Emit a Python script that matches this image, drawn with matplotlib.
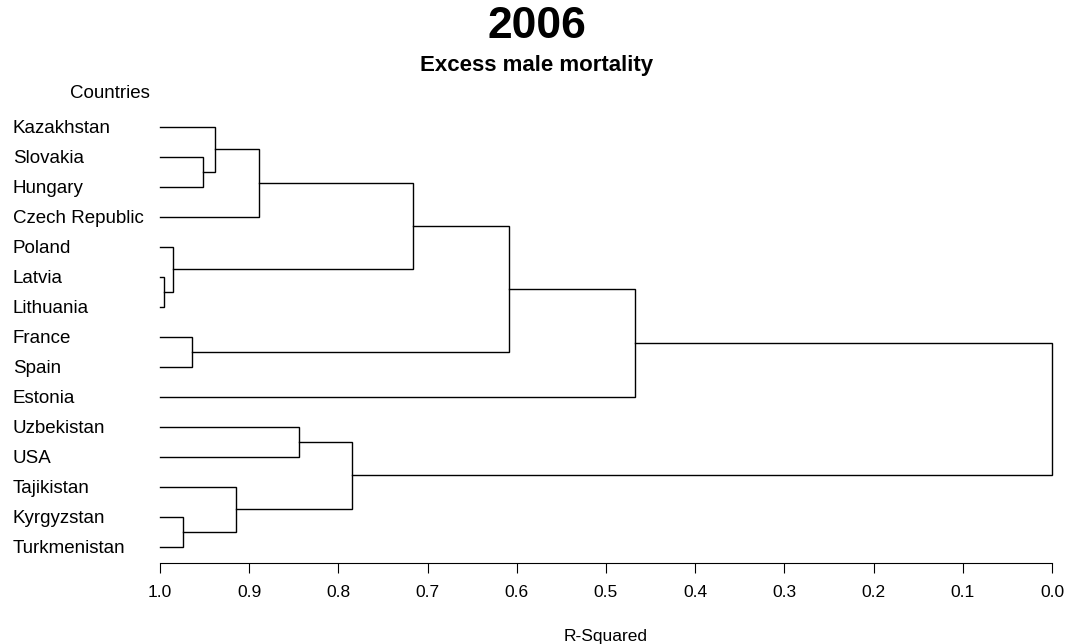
import matplotlib
matplotlib.use("Agg")
import matplotlib.pyplot as plt
from matplotlib.transforms import blended_transform_factory

plt.rcParams['font.family'] = ['Liberation Sans', 'DejaVu Sans']

countries = ["Kazakhstan", "Slovakia", "Hungary", "Czech Republic", "Poland",
             "Latvia", "Lithuania", "France", "Spain", "Estonia",
             "Uzbekistan", "USA", "Tajikistan", "Kyrgyzstan", "Turkmenistan"]

# merge steps: a leaf name or the index of an earlier merge, joined at an R-squared value
merge_a = ["Latvia", "Slovakia", "Kyrgyzstan", "France", "Poland", "Kazakhstan", 5,
           "Tajikistan", "Uzbekistan", 8, 6, 10, 11, 12]
merge_b = ["Lithuania", "Hungary", "Turkmenistan", "Spain", 0, 1, "Czech Republic",
           2, "USA", 7, 4, 3, "Estonia", 9]
merge_r2 = [0.995, 0.952, 0.974, 0.964, 0.985, 0.938, 0.889,
            0.915, 0.844, 0.785, 0.716, 0.609, 0.467, 0.0]

xticks = [1.0, 0.9, 0.8, 0.7, 0.6, 0.5, 0.4, 0.3, 0.2, 0.1, 0.0]

W, H = 1066, 644
fig = plt.figure(figsize=(W / 100, H / 100), dpi=100)
ax_top, ax_bot = 110, 562.7
ax = fig.add_axes([160 / W, 1 - ax_bot / H, 892 / W, (ax_bot - ax_top) / H])

def node(k):
    if isinstance(k, str):
        return countries.index(k), 1.0
    return pos[k], merge_r2[k]

pos = []
for a, b, h in zip(merge_a, merge_b, merge_r2):
    ya, ha = node(a)
    yb, hb = node(b)
    ax.plot([ha, h, h, hb], [ya, ya, yb, yb], color='black', lw=1.0,
            solid_joinstyle='miter', clip_on=False)
    pos.append((ya + yb) / 2)

ax.set_xlim(1.0, 0.0)
ax.set_ylim(len(countries) - 1 + 16 / 30, -(126.7 - ax_top) / 30)
ax.set_xticks(xticks)
ax.set_xticklabels([f"{t:.1f}" for t in xticks], fontsize=12.5)
ax.tick_params(axis='x', direction='out', length=7.2, width=0.8, pad=9)
ax.set_yticks([])
for s in ['top', 'left', 'right']:
    ax.spines[s].set_visible(False)
ax.spines['bottom'].set_linewidth(0.8)

tr = blended_transform_factory(fig.transFigure, ax.transData)
for i, c in enumerate(countries):
    ax.text(12.7 / W, i + 0.06, c, transform=tr, ha='left', va='center', fontsize=13.5)

fig.text(537 / W, 1 - 26.5 / H, "2006", ha='center', va='center',
         fontsize=32, fontweight='bold')
fig.text(537 / W, 1 - 66 / H, "Excess male mortality", ha='center', va='center',
         fontsize=16, fontweight='bold')
fig.text(110 / W, 1 - 93 / H, "Countries", ha='center', va='center', fontsize=13.5)
fig.text(606 / W, 1 - 637 / H, "R-Squared", ha='center', va='center', fontsize=12.5)

fig.savefig("out.png", dpi=100)
